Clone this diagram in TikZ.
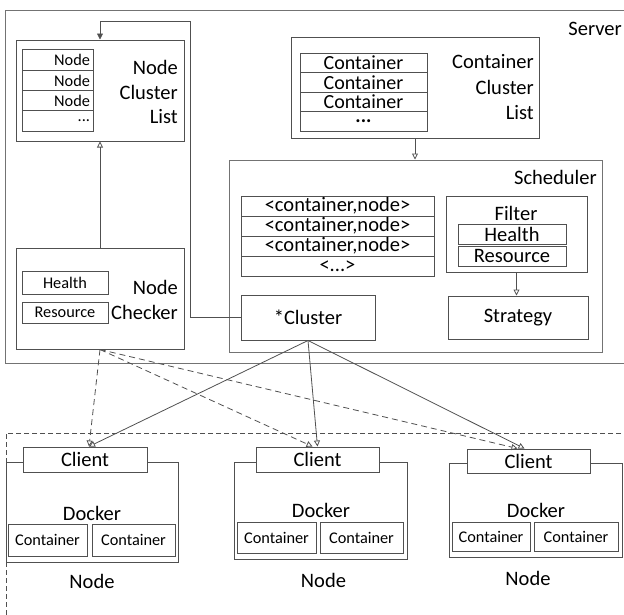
\documentclass[tikz,border=0pt]{standalone}
\usepackage{fontspec}
\setmainfont{Carlito}
\usetikzlibrary{arrows.meta,calc}
\definecolor{lc}{RGB}{80,80,80}
\definecolor{lcout}{RGB}{115,115,115}
\begin{document}
\begin{tikzpicture}[x=1pt,y=-1pt,
  big/.style={font=\fontsize{20.5}{24.5}\selectfont},
  rowfont/.style={font=\fontsize{20}{20}\selectfont},
  small/.style={font=\fontsize{16.3}{19}\selectfont},
  box/.style 2 args={draw=lc, line width=1pt, fill=white, inner sep=0pt, minimum width=#1, minimum height=#2},
  outbox/.style 2 args={draw=lcout, line width=1pt, inner sep=0pt, minimum width=#1, minimum height=#2},
  rrow/.style={box={71}{20.25}, small, text width=65pt, align=right},
  lbl/.style={inner sep=0pt, big},
  openarr/.style={draw=lc, line width=0.8pt, -{Triangle[open,length=6pt,width=6pt]}},
  fillarr/.style={draw=lc, line width=0.8pt, -{Triangle[length=6pt,width=6pt]}},
  dasharr/.style={draw=lc, line width=0.8pt, dash pattern=on 6pt off 4pt, -{Triangle[open,length=6pt,width=6pt]}},
]
\useasboundingbox (0,0) rectangle (624,614);

% Server
\node[outbox={629}{353}] (server) at (319.5,186.5) {};
\node[lbl, anchor=base east] (serverlbl) at (622,35) {Server};

% Node cluster list
\node[box={168}{101}] (ncl) at (100,90.5) {};
\node[rrow] (n1) at (57.5,60.1) {Node};
\node[rrow] (n2) at (57.5,80.4) {Node};
\node[rrow] (n3) at (57.5,100.6) {Node};
\node[rrow] (n4) at (57.5,120.9) {...};
\node[lbl, anchor=east, align=right] (ncllbl) at (178,92) {Node\\Cluster\\List};

% Node checker
\node[box={168}{101}] (nc) at (100,298.5) {};
\node[box={86}{23}, small] (nch) at (65,282.5) {Health};
\node[box={86}{21}, small] (ncr) at (65,312.5) {Resource};
\node[lbl, anchor=east, align=right] (nclbl) at (178,300) {Node\\Checker};

% Container cluster list
\node[box={248}{101}] (ccl) at (415,87.5) {};
\node[box={127}{19.5}, rowfont] (c1) at (363.5,62.75) {Container};
\node[box={127}{19.5}, rowfont] (c2) at (363.5,82.25) {Container};
\node[box={127}{19.5}, rowfont] (c3) at (363.5,101.75) {Container};
\node[box={127}{19.5}, rowfont] (c4) at (363.5,121.25) {\textbf{...}};
\node[lbl, anchor=east, align=right, font=\fontsize{20.5}{25.5}\selectfont] (ccllbl) at (534,87.5) {Container\\Cluster\\List};

% Scheduler
\node[outbox={373}{192}] (sch) at (415.5,256) {};
\node[lbl, anchor=base east] (schlbl) at (597,184) {Scheduler};
\node[box={193}{20}, big] (p1) at (337.5,206) {<container,node>};
\node[box={193}{20}, big] (p2) at (337.5,226) {<container,node>};
\node[box={193}{20}, big] (p3) at (337.5,246) {<container,node>};
\node[box={193}{20}, big] (p4) at (337.5,266) {<...>};
\node[box={141}{76}] (filter) at (516.5,234) {};
\node[lbl, anchor=base] (filterlbl) at (516,220) {Filter};
\node[box={108}{20}, big] (fh) at (512,234) {Health};
\node[box={108}{20}, big] (fr) at (512,256) {Resource};
\node[box={140}{43}, big] (strategy) at (518,317.5) {Strategy};
\node[box={134}{45}, big] (cluster) at (308,317.5) {*Cluster};

% internal arrows
\draw[openarr] (nc.north) -- (ncl.south);
\draw[fillarr] (cluster.west) -- (190,317.5) -- (190,21) -- (100,21) -- (ncl.north);
\draw[openarr] (ccl.south) -- (ccl.south |- sch.north);
\draw[openarr] (filter.south) -- (filter.south |- strategy.north);

% Node region
\node[draw=lc, line width=0.8pt, dash pattern=on 5pt off 3pt, inner sep=0pt, minimum width=644, minimum height=207] (region) at (328,536.5) {};

% Node 1
\node[box={172}{100}] (d1) at (92,512) {};
\node[box={124}{25}, big] (cl1) at (85,459.5) {Client};
\node[lbl, anchor=base] (d1lbl) at (92,520) {Docker};
\node[box={79}{32}, small] (d1a) at (47.5,540) {Container};
\node[box={83}{32}, small] (d1b) at (133.5,540) {Container};
\node[lbl, anchor=base] (n1lbl) at (92,588) {Node};

% Node 2
\node[box={173}{97}] (d2) at (320.5,510.5) {};
\node[box={123}{25}, big] (cl2) at (317.5,459.5) {Client};
\node[lbl, anchor=base] (d2lbl) at (321,517) {Docker};
\node[box={79}{31}, small] (d2a) at (276.5,537.5) {Container};
\node[box={83}{31}, small] (d2b) at (361.5,537.5) {Container};
\node[lbl, anchor=base] (n2lbl) at (323.5,587) {Node};

% Node 3
\node[box={173}{94}] (d3) at (535.5,510) {};
\node[box={123}{24}, big] (cl3) at (528.5,461) {Client};
\node[lbl, anchor=base] (d3lbl) at (536,517) {Docker};
\node[box={78}{29}, small] (d3a) at (491,536.5) {Container};
\node[box={84}{29}, small] (d3b) at (576,536.5) {Container};
\node[lbl, anchor=base] (n3lbl) at (528,585) {Node};

% connectors to clients
\coordinate (t1) at ($(cl1.north)+(4,0)$);
\coordinate (t2s) at (cl2.north);
\coordinate (t2d) at ($(cl2.north)+(-5,0)$);
\coordinate (t3s) at ($(cl3.north)+(-4,0)$);
\coordinate (t3d) at ($(cl3.north)+(-11,0)$);
\draw[openarr] (cluster.south) -- (t1);
\draw[openarr] (cluster.south) -- (t2s);
\draw[openarr] (cluster.south) -- (t3s);
\draw[dasharr] (nc.south) -- (t1);
\draw[dasharr] (nc.south) -- (t2d);
\draw[dasharr] (nc.south) -- (t3d);
\end{tikzpicture}
\end{document}
